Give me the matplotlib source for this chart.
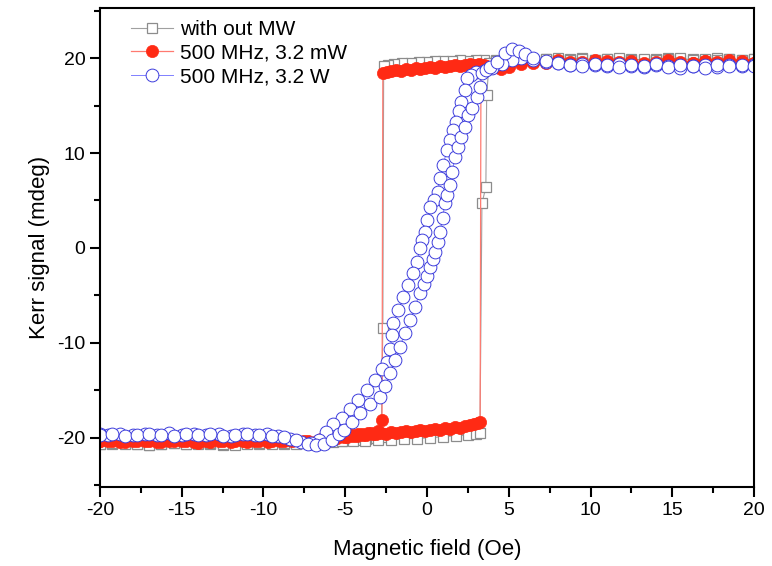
import matplotlib
matplotlib.use("Agg")
import matplotlib.pyplot as plt
from matplotlib.ticker import MultipleLocator

plt.rcParams.update({
    'font.family': ['Liberation Sans', 'DejaVu Sans'],
    'font.size': 14,
    'axes.linewidth': 1.5,
})

# --- data read off the loop (field in Oe, Kerr signal in mdeg) ---
# without microwave: descending branch (+20 -> -20)
gray_desc_field = [20, 19.25, 18.5, 17.75, 17, 16.25, 15.5, 14.75, 14, 13.25, 12.5, 11.75,
                   11, 10.25, 9.5, 8.75, 8, 7.25, 6.5, 5.75, 5, 4.25, 3.5, 3.0, 2.5, 2.0,
                   1.5, 1.0, 0.5, 0.0, -0.5, -1.0, -1.5, -2.0, -2.4, -2.65, -2.7, -2.8,
                   -3.2, -3.7, -4.2, -4.7, -5.2, -5.75, -6.5, -7.25, -8, -8.75, -9.5,
                   -10.25, -11, -11.75, -12.5, -13.25, -14, -14.75, -15.5, -16.25, -17,
                   -17.75, -18.5, -19.25, -20]
gray_desc_kerr = [19.9, 19.8, 19.9, 20.0, 19.8, 19.9, 19.8, 20.0, 19.9, 19.8, 19.9, 19.8,
                  19.9, 19.8, 20.0, 19.9, 19.8, 19.9, 19.8, 19.9, 19.8, 19.8, 19.8, 19.8,
                  19.7, 19.8, 19.7, 19.7, 19.7, 19.6, 19.6, 19.5, 19.5, 19.4, 19.3, 19.2,
                  -8.4, -19.9, -20.0, -20.1, -20.2, -20.2, -20.3, -20.4, -20.5, -20.6,
                  -20.6, -20.7, -20.6, -20.7, -20.6, -20.7, -20.8, -20.7, -20.6, -20.7,
                  -20.6, -20.7, -20.8, -20.7, -20.6, -20.7, -20.7]
# without microwave: ascending branch (-20 -> +20)
gray_asc_field = [-20, -19.25, -18.5, -17.75, -17, -16.25, -15.5, -14.75, -14, -13.25,
                  -12.5, -11.75, -11, -10.25, -9.5, -8.75, -8, -7.25, -6.5, -5.75, -5.2,
                  -4.5, -3.8, -3.0, -2.2, -1.4, -0.6, 0.2, 1.0, 1.8, 2.5, 3.0, 3.24,
                  3.36, 3.6, 3.65, 3.8, 4.25, 5, 5.75, 6.5, 7.25, 8, 8.75, 9.5, 10.25,
                  11, 11.75, 12.5, 13.25, 14, 14.75, 15.5, 16.25, 17, 17.75, 18.5, 19.25, 20]
gray_asc_kerr = [-20.7, -20.6, -20.7, -20.7, -20.8, -20.7, -20.6, -20.7, -20.7, -20.6,
                 -20.7, -20.8, -20.7, -20.6, -20.7, -20.6, -20.7, -20.6, -20.6, -20.5,
                 -20.4, -20.3, -20.3, -20.2, -20.2, -20.1, -20.1, -20.0, -19.9, -19.8,
                 -19.7, -19.6, -19.5, 4.7, 6.4, 16.1, 19.5, 19.7, 19.8, 19.9, 19.8, 19.9,
                 20.0, 19.8, 19.9, 19.8, 19.9, 20.0, 19.8, 19.9, 19.8, 19.9, 20.0, 19.8,
                 19.9, 19.8, 19.9, 19.8, 19.9]

# 500 MHz, 3.2 mW: descending branch
red_desc_field = [20, 19.25, 18.5, 17.75, 17, 16.25, 15.5, 14.75, 14, 13.25, 12.5, 11.75,
                  11, 10.25, 9.5, 8.75, 8, 7.25, 6.5, 5.75, 5, 4.25, 3.5, 3.2, 2.9, 2.6,
                  2.3, 2.0, 1.7, 1.4, 1.1, 0.8, 0.5, 0.2, -0.1, -0.4, -0.7, -1.0, -1.3,
                  -1.6, -1.9, -2.2, -2.45, -2.7, -2.75, -3.0, -3.3, -3.6, -3.9, -4.2,
                  -4.5, -4.8, -5.1, -5.5, -6.0, -6.75, -7.5, -8.25, -9, -9.75, -10.5,
                  -11.25, -12, -12.75, -13.5, -14.25, -15, -15.75, -16.5, -17.25, -18,
                  -18.75, -19.5, -20]
red_desc_kerr = [19.5, 19.6, 19.4, 19.5, 19.7, 19.5, 19.4, 19.6, 19.5, 19.4, 19.6, 19.5,
                 19.7, 19.5, 19.4, 19.6, 19.8, 19.7, 19.5, 19.6, 19.3, 19.4, 19.3, 19.4,
                 19.3, 19.4, 19.3, 19.2, 19.3, 19.2, 19.1, 19.2, 19.0, 19.1, 19.0, 18.9,
                 19.0, 18.8, 18.9, 18.7, 18.8, 18.6, 18.5, 18.4, -18.1, -19.3, -19.6,
                 -19.5, -19.7, -19.6, -19.8, -19.7, -19.9, -20.0, -20.2, -20.3, -20.4,
                 -20.3, -20.4, -20.5, -20.3, -20.4, -20.5, -20.3, -20.4, -20.5, -20.3,
                 -20.4, -20.5, -20.4, -20.3, -20.5, -20.4, -20.4]
# 500 MHz, 3.2 mW: ascending branch
red_asc_field = [-20, -19.25, -18.5, -17.75, -17, -16.25, -15.5, -14.75, -14, -13.25,
                 -12.5, -11.75, -11, -10.25, -9.5, -8.75, -8, -7.25, -6.5, -5.9, -5.5,
                 -5.2, -4.9, -4.6, -4.3, -4.0, -3.7, -3.4, -3.1, -2.8, -2.5, -2.2, -1.9,
                 -1.6, -1.3, -1.0, -0.7, -0.4, -0.1, 0.2, 0.5, 0.8, 1.1, 1.4, 1.7, 2.0,
                 2.3, 2.6, 2.9, 3.1, 3.25, 3.3, 3.6, 4.0, 4.5, 5.0, 5.75, 6.5, 7.25, 8,
                 8.75, 9.5, 10.25, 11, 11.75, 12.5, 13.25, 14, 14.75, 15.5, 16.25, 17,
                 17.75, 18.5, 19.25, 20]
red_asc_kerr = [-20.4, -20.3, -20.5, -20.3, -20.4, -20.5, -20.3, -20.4, -20.6, -20.5,
                -20.3, -20.4, -20.5, -20.3, -20.4, -20.3, -20.2, -20.3, -20.1, -20.0,
                -19.9, -19.8, -19.9, -19.7, -19.8, -19.6, -19.7, -19.5, -19.6, -19.5,
                -19.6, -19.4, -19.5, -19.4, -19.3, -19.4, -19.3, -19.2, -19.3, -19.2,
                -19.1, -19.2, -19.0, -19.1, -18.9, -19.0, -18.8, -18.7, -18.6, -18.5,
                -18.4, 18.9, 19.2, 19.0, 18.9, 19.1, 19.4, 19.6, 19.5, 19.7, 19.5, 19.6,
                19.8, 19.5, 19.6, 19.7, 19.5, 19.6, 19.8, 19.6, 19.5, 19.7, 19.6, 19.8,
                19.7, 19.5]

# 500 MHz, 3.2 W: descending branch
blue_desc_field = [20, 19.25, 18.5, 17.75, 17, 16.25, 15.5, 14.75, 14, 13.25, 12.5, 11.75,
                   11, 10.25, 9.5, 8.75, 8, 7.25, 6.5, 5.75, 5.2, 4.6, 4.0, 3.5, 3.0, 2.7,
                   2.45, 2.3, 2.1, 1.95, 1.8, 1.6, 1.4, 1.2, 1.0, 0.8, 0.65, 0.45, 0.2,
                   0.0, -0.12, -0.3, -0.45, -0.6, -0.85, -1.15, -1.45, -1.75, -2.05,
                   -2.15, -2.25, -2.45, -2.75, -3.2, -3.65, -4.2, -4.7, -5.2, -5.75,
                   -6.2, -6.6, -7.1, -7.7, -8.4, -9.1, -9.8, -10.5, -11.25, -12, -12.75,
                   -13.5, -14.25, -15, -15.75, -16.5, -17.25, -18, -18.75, -19.5, -20]
blue_desc_kerr = [19.3, 19.2, 19.3, 19.1, 19.3, 19.2, 19.0, 19.2, 19.3, 19.1, 19.2, 19.4,
                  19.2, 19.3, 19.4, 19.3, 19.5, 19.6, 19.8, 20.0, 19.8, 19.4, 19.0, 18.7,
                  18.5, 18.2, 17.9, 16.6, 15.4, 14.4, 13.3, 12.4, 11.4, 10.3, 8.7, 7.4,
                  5.9, 5.1, 4.3, 2.9, 1.7, 0.8, 0.0, -1.5, -2.6, -3.9, -5.2, -6.5, -7.9,
                  -9.2, -10.7, -12.0, -12.8, -13.9, -15.0, -16.0, -17.0, -17.9, -18.6,
                  -19.4, -20.2, -20.6, -20.5, -20.1, -19.8, -19.6, -19.7, -19.6, -19.8,
                  -19.6, -19.7, -19.6, -19.7, -19.5, -19.7, -19.6, -19.7, -19.6, -19.7,
                  -19.6]
# 500 MHz, 3.2 W: ascending branch
blue_asc_field = [-20, -19.25, -18.5, -17.75, -17, -16.25, -15.5, -14.75, -14, -13.25,
                  -12.5, -11.75, -11, -10.25, -9.5, -8.75, -8, -7.3, -6.8, -6.3, -5.8,
                  -5.4, -5.1, -4.6, -4.1, -3.5, -2.87, -2.57, -2.26, -1.96, -1.65, -1.35,
                  -1.04, -0.73, -0.43, -0.2, 0.0, 0.18, 0.35, 0.5, 0.67, 0.8, 0.95, 1.1,
                  1.25, 1.4, 1.55, 1.7, 1.9, 2.1, 2.3, 2.5, 2.75, 3.06, 3.24, 3.36, 3.6,
                  3.85, 4.3, 4.8, 5.2, 5.6, 6.0, 6.5, 7.25, 8, 8.75, 9.5, 10.25, 11,
                  11.75, 12.5, 13.25, 14, 14.75, 15.5, 16.25, 17, 17.75, 18.5, 19.25, 20]
blue_asc_kerr = [-19.7, -19.6, -19.8, -19.7, -19.6, -19.7, -19.8, -19.6, -19.7, -19.6,
                 -19.8, -19.7, -19.6, -19.7, -19.8, -19.9, -20.2, -20.7, -20.8, -20.7,
                 -20.2, -19.6, -19.2, -18.4, -17.4, -16.5, -15.7, -14.6, -13.2, -11.8,
                 -10.4, -9.0, -7.6, -6.2, -4.7, -3.8, -3.0, -2.0, -1.2, -0.4, 0.6, 1.7,
                 3.2, 4.7, 5.6, 6.6, 8.0, 9.6, 10.6, 11.7, 12.7, 14.0, 14.8, 15.9, 17.0,
                 18.4, 18.8, 19.1, 19.6, 20.5, 21.0, 20.8, 20.4, 20.0, 19.7, 19.5, 19.3,
                 19.2, 19.4, 19.3, 19.1, 19.3, 19.2, 19.4, 19.1, 19.3, 19.2, 19.0, 19.3,
                 19.2, 19.3, 19.2]

labels = ['with out MW', '500 MHz, 3.2 mW', '500 MHz, 3.2 W']

fig = plt.figure(figsize=(7.72, 5.66), dpi=100)
ax = fig.add_axes([0.1295, 0.1396, 0.8472, 0.8464])

ax.plot(gray_desc_field + gray_asc_field, gray_desc_kerr + gray_asc_kerr,
        color='#a0a0a0', lw=0.8, marker='s', ms=7, mfc='white', mec='#8c8c8c',
        mew=0.9, label=labels[0])
ax.plot(red_desc_field + red_asc_field, red_desc_kerr + red_asc_kerr,
        color='#ff7a70', lw=0.9, marker='o', ms=8.8, mfc='#ff2a14', mec='#ff2a14',
        mew=0.5, label=labels[1])
ax.plot(blue_desc_field + blue_asc_field, blue_desc_kerr + blue_asc_kerr,
        color='#8080ff', lw=0.7, marker='o', ms=9.2, mfc='white', mec='#3c3cdc',
        mew=0.7, label=labels[2])

ax.set_xlim(-20, 20)
ax.set_ylim(-25.2, 25.3)
ax.xaxis.set_major_locator(MultipleLocator(5))
ax.xaxis.set_minor_locator(MultipleLocator(2.5))
ax.yaxis.set_major_locator(MultipleLocator(10))
ax.yaxis.set_minor_locator(MultipleLocator(5))
ax.tick_params(which='both', direction='out', width=1.5, labelsize=14,
               top=False, right=False)
ax.tick_params(which='major', length=7)
ax.tick_params(which='minor', length=4)
ax.set_xticks([-20, -15, -10, -5, 0, 5, 10, 15, 20])
ax.set_xticklabels(['-20', '-15', '-10', '-5', '0', '5', '10', '15', '20'])
ax.set_yticks([-20, -10, 0, 10, 20])
ax.set_yticklabels(['-20', '-10', '0', '10', '20'])

ax.set_xlabel('Magnetic field (Oe)', fontsize=16, labelpad=15)
ax.set_ylabel('Kerr signal (mdeg)', fontsize=16, labelpad=5)

ax.legend(loc='upper left', frameon=False, fontsize=15, handlelength=2.0,
          handletextpad=0.35, labelspacing=0.22, borderaxespad=0.3,
          bbox_to_anchor=(0.025, 1.005))

fig.savefig('out.png', dpi=100)
